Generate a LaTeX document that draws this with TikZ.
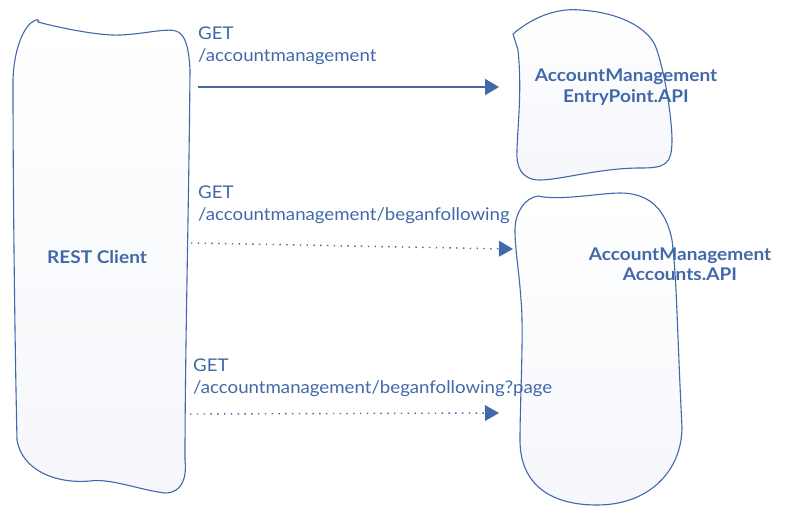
\documentclass[tikz,border=0pt]{standalone}
\usepackage{fontspec}
\setmainfont{Lato}[FakeStretch=1.066,BoldFeatures={FakeStretch=1.09}]
\usetikzlibrary{arrows.meta}
\definecolor{ink}{RGB}{65,105,170}
\definecolor{shadebot}{RGB}{245,247,251}
\begin{document}
\begin{tikzpicture}[x=1pt,y=-1pt,
  blob/.style={draw=ink,line width=1.1pt,top color=white,bottom color=shadebot},
  lbl/.style={anchor=base west,inner sep=0pt,text=ink,font=\fontsize{17.5}{22}\selectfont},
  ttl/.style={anchor=base,inner sep=0pt,text=ink,font=\fontsize{17.5}{22}\selectfont\bfseries},
  solidarrow/.style={draw=ink,line width=2pt,-{Triangle[length=14pt,width=16pt]}},
  dotarrow/.style={draw=ink,line width=1.4pt,dash pattern=on 1.4pt off 5.4pt,-{Triangle[length=14pt,width=16pt,line width=0pt]}}]
\useasboundingbox (0,0) rectangle (788,515);
% REST Client shape
\path[blob] (38,22) .. controls (60,28) and (100,36) .. (120,35)
  .. controls (145,34) and (165,28) .. (176,31)
  .. controls (186,34) and (189,50) .. (190,70)
  .. controls (189,200) and (185,350) .. (185,460)
  .. controls (187,478) and (182,493) .. (165,493)
  .. controls (140,490) and (110,478) .. (90,481)
  .. controls (55,484) and (22,470) .. (17,440)
  .. controls (15,350) and (13,200) .. (13,80)
  .. controls (14,45) and (26,24) .. (34,21)
  .. controls (37,19) and (40,20) .. (38,22) -- cycle;
% EntryPoint shape
\path[blob] (513,34) .. controls (535,15) and (560,8) .. (580,10)
  .. controls (615,12) and (645,25) .. (655,45)
  .. controls (665,70) and (672,120) .. (672,140)
  .. controls (672,165) and (665,168) .. (640,168)
  .. controls (600,168) and (560,180) .. (540,180)
  .. controls (520,180) and (516,165) .. (517,150)
  .. controls (518,120) and (522,90) .. (518,50) -- cycle;
% Accounts shape
\path[blob] (515,230) .. controls (515,212) and (525,198) .. (538,196)
  .. controls (560,201) and (600,193) .. (620,193)
  .. controls (650,193) and (666,210) .. (672,240)
  .. controls (677,280) and (677,330) .. (682,427)
  .. controls (682,470) and (650,505) .. (597,505)
  .. controls (545,505) and (520,480) .. (520,440)
  .. controls (520,400) and (524,330) .. (521,300)
  .. controls (519,270) and (515,250) .. (515,230) -- cycle;
% titles
\node[ttl] (rest) at (97,263) {REST Client};
\node[ttl] (ep1) at (626,81) {AccountManagement};
\node[ttl] (ep2) at (626,102) {EntryPoint.API};
\node[ttl] (ac1) at (680,260) {AccountManagement};
\node[ttl] (ac2) at (680,280) {Accounts.API};
% labels
\node[lbl] (l1a) at (198,39) {GET};
\node[lbl] (l1b) at (198,61) {/accountmanagement};
\node[lbl] (l2a) at (198,198) {GET};
\node[lbl] (l2b) at (198,220) {/accountmanagement/beganfollowing};
\node[lbl] (l3a) at (193,371) {GET};
\node[lbl] (l3b) at (193,393) {/accountmanagement/beganfollowing?page};
% arrow end points
\coordinate (a1s) at (198,87);
\coordinate (a1e) at (499,87);
\coordinate (a2s) at (191,243);
\coordinate (a2e) at (513,249);
\coordinate (a3s) at (190,414);
\coordinate (a3e) at (499,413);
\draw[solidarrow] (a1s) -- (a1e);
\draw[dotarrow] (a2s) -- (a2e);
\draw[dotarrow] (a3s) -- (a3e);
\end{tikzpicture}
\end{document}
